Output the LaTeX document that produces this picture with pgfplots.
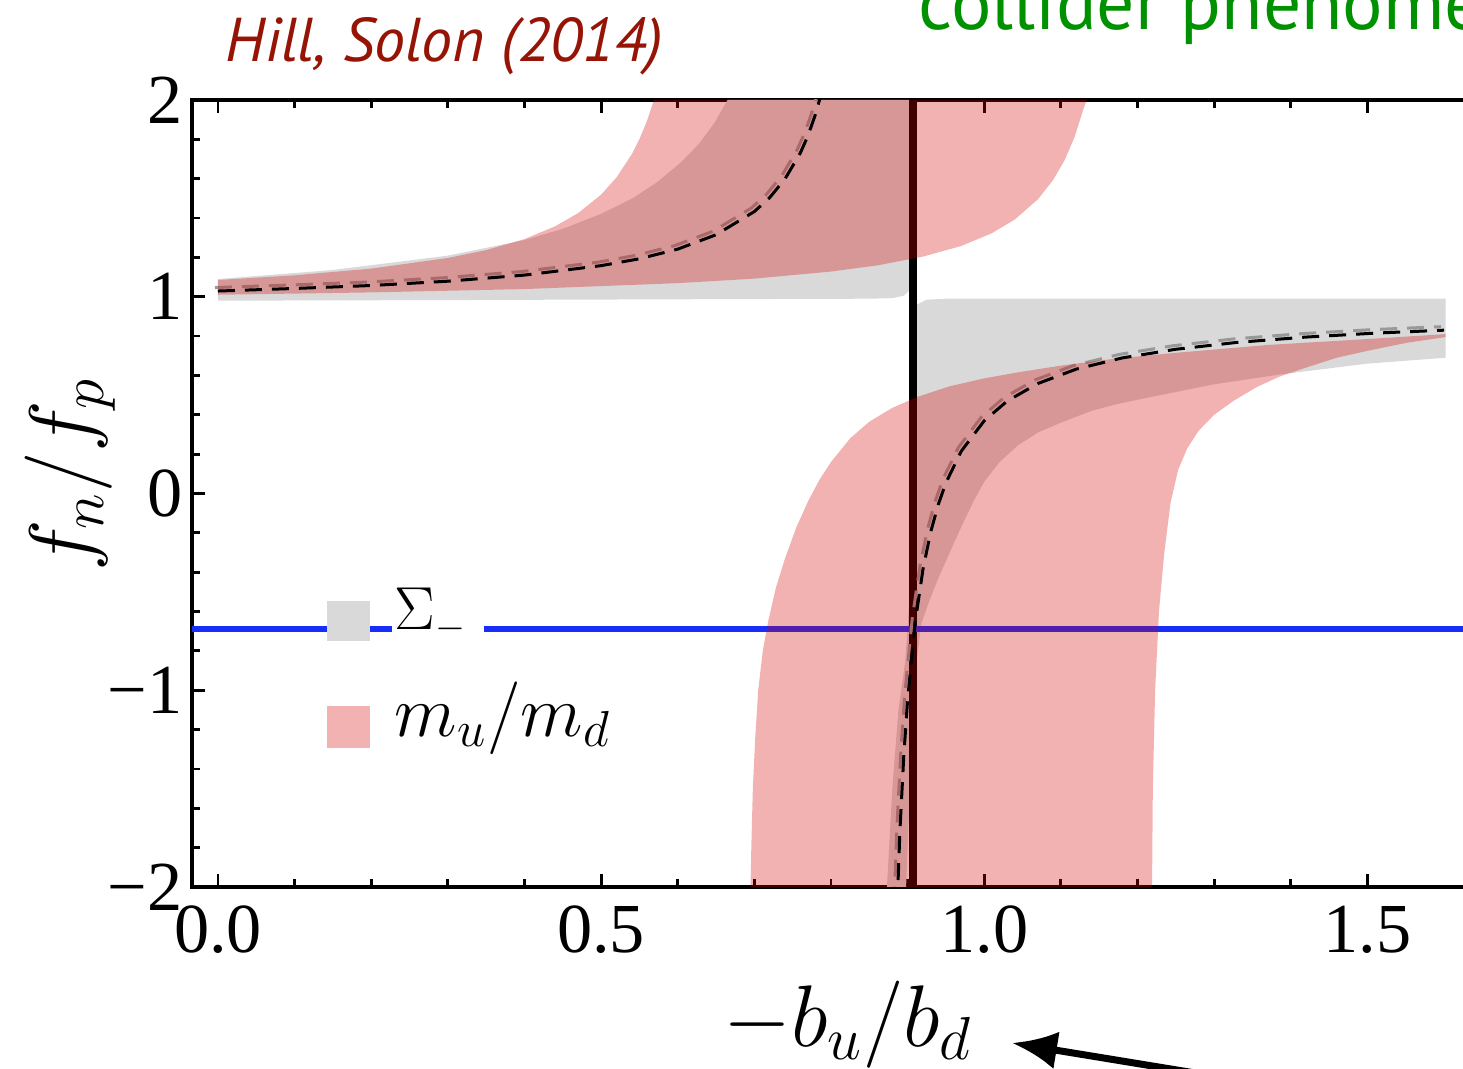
\documentclass[border=0pt]{standalone}
\usepackage{pgfplots}
\pgfplotsset{compat=1.18}
\usepackage{fontspec}
\setmainfont{Liberation Serif}
\newfontfamily\gill{PT Sans}
\usetikzlibrary{arrows.meta}
\definecolor{grayband}{RGB}{217,217,217}
\definecolor{pinkc}{RGB}{212,0,0}
\definecolor{pinklegend}{RGB}{242,178,178}
\definecolor{blueline}{RGB}{25,45,250}
\definecolor{titlered}{RGB}{150,20,5}
\definecolor{grn}{RGB}{0,145,0}

\begin{document}
\begin{tikzpicture}
\begin{axis}[
  name=ax, at={(0,0)}, anchor=south west,
  scale only axis, width=129.8mm, height=78.7mm,
  xmin=-0.0339, xmax=1.66, ymin=-2, ymax=2,
  xtick={0,0.5,1,1.5}, xticklabels={0.0,0.5,1.0,1.5},
  ytick={-2,-1,0,1,2}, yticklabels={−2,−1,0,1,2},
  minor x tick num=4, minor y tick num=4,
  tick align=inside,
  major tick length=1.3mm, minor tick length=0.8mm,
  every tick/.style={black, line width=0.8pt},
  axis line style={line width=1.1pt},
  ticklabel style={font=\fontsize{20}{24}\selectfont},
  xticklabel style={inner sep=0pt, yshift=-1.8mm},
  yticklabel style={inner sep=0pt, xshift=-0.9mm},
  legend style={at={(rel axis cs:0.104,0.380)}, anchor=north west, draw=none, fill=none,
    inner sep=0pt, outer sep=0pt, row sep=4mm, column sep=2.5mm,
    nodes={inner sep=0pt, anchor=base west}},
  legend cell align=left,
]
% Sigma_- band (gray), upper branch
\addplot[forget plot, draw=none, fill=grayband] coordinates {
 (0,0.98) (0.3,0.983) (0.6,0.987) (0.85,0.99) (0.88,0.993) (0.895,1.005) (0.902,1.03) (0.905,1.08)
 (0.905,2) (0.665,2) (0.648,1.884) (0.627,1.774) (0.605,1.686) (0.573,1.582) (0.542,1.502) (0.5,1.421)
 (0.45,1.345) (0.4,1.288) (0.3,1.209) (0.15,1.136) (0,1.09)} -- cycle;
% Sigma_- band (gray), lower branch
\addplot[forget plot, draw=none, fill=grayband] coordinates {
 (0.873,-2) (0.880,-1.5) (0.888,-1.1) (0.897,-0.85) (0.903,-0.5) (0.906,0) (0.907,0.9) (0.912,0.96)
 (0.925,0.985) (0.95,0.99) (1.602,0.99) (1.602,0.69) (1.5,0.66) (1.386,0.605) (1.3,0.555)
 (1.217,0.49) (1.174,0.455) (1.14,0.42) (1.1,0.36) (1.07,0.31) (1.044,0.245) (1.02,0.16)
 (1.0,0.06) (0.986,-0.04) (0.97,-0.17) (0.955,-0.3) (0.939,-0.44) (0.928,-0.55) (0.918,-0.66)
 (0.91,-0.9) (0.904,-1.4) (0.898,-2)} -- cycle;
% vertical line
\addplot[forget plot, black, line width=0.8mm] coordinates {(0.907,-2.1) (0.907,2.1)};
% horizontal blue line (gap behind legend text)
\addplot[forget plot, blueline, line width=0.6mm] coordinates {(-0.05,-0.69) (0.227,-0.69)};
\addplot[forget plot, blueline, line width=0.6mm] coordinates {(0.347,-0.69) (1.7,-0.69)};
% shadow dashed curve
\addplot[forget plot, black!40, line width=0.3mm, dash pattern=on 1.7mm off 1mm, xshift=-0.3mm, yshift=0.35mm] coordinates {
 (0,1.029) (0.1,1.042) (0.2,1.057) (0.3,1.079) (0.4,1.110) (0.5,1.158) (0.55,1.193) (0.6,1.242)
 (0.65,1.315) (0.7,1.433) (0.72,1.504) (0.74,1.599) (0.76,1.731) (0.77,1.819) (0.78,1.930) (0.79,2.071)};
\addplot[forget plot, black!40, line width=0.3mm, dash pattern=on 1.7mm off 1mm, xshift=-0.3mm, yshift=0.35mm] coordinates {
 (0.885,-2.239) (0.89,-1.710) (0.895,-1.332) (0.9,-1.048) (0.91,-0.651) (0.92,-0.386) (0.93,-0.197)
 (0.94,-0.056) (0.95,0.055) (0.97,0.215) (1.0,0.370) (1.03,0.470) (1.07,0.559) (1.12,0.632)
 (1.18,0.689) (1.25,0.733) (1.33,0.768) (1.42,0.795) (1.51,0.815) (1.60,0.830)};
% m_u/m_d band (pink), upper branch
\addplot[forget plot, draw=none, fill=pinkc, fill opacity=0.3] coordinates {
 (0,1.01) (0.2,1.022) (0.4,1.039) (0.6,1.069) (0.7,1.092) (0.8,1.128) (0.86,1.159) (0.92,1.204)
 (0.97,1.258) (1.01,1.323) (1.04,1.393) (1.07,1.495) (1.09,1.594) (1.105,1.695) (1.118,1.813)
 (1.13,1.961) (1.134,2.0) (0.569,2.0) (0.56,1.895) (0.55,1.801) (0.54,1.724) (0.52,1.606)
 (0.5,1.519) (0.47,1.425) (0.44,1.358) (0.4,1.293) (0.35,1.237) (0.3,1.197) (0.2,1.143)
 (0.1,1.109) (0,1.085)} -- cycle;
% m_u/m_d band (pink), lower branch
\addplot[forget plot, draw=none, fill=pinkc, fill opacity=0.3] coordinates {
 (0.695,-2) (0.696,-1.8) (0.698,-1.5) (0.701,-1.25) (0.705,-1.0) (0.711,-0.8) (0.718,-0.65)
 (0.728,-0.48) (0.74,-0.33) (0.755,-0.17) (0.77,-0.04) (0.785,0.07) (0.80,0.16) (0.825,0.28)
 (0.85,0.365) (0.88,0.435) (0.912,0.49) (0.955,0.545) (1.0,0.585) (1.043,0.615) (1.1,0.65)
 (1.17,0.685) (1.25,0.715) (1.37,0.755) (1.5,0.785) (1.602,0.81)
 (1.602,0.795) (1.55,0.765) (1.5,0.725) (1.46,0.69) (1.42,0.64) (1.386,0.595) (1.355,0.54)
 (1.325,0.47) (1.3,0.40) (1.28,0.32) (1.265,0.23) (1.253,0.12) (1.243,-0.05) (1.235,-0.3)
 (1.228,-0.6) (1.223,-1.0) (1.220,-1.5) (1.219,-2)} -- cycle;
% central dashed curve
\addplot[forget plot, black, line width=0.3mm, dash pattern=on 1.7mm off 1mm] coordinates {
 (0,1.029) (0.1,1.042) (0.2,1.057) (0.3,1.079) (0.4,1.110) (0.5,1.158) (0.55,1.193) (0.6,1.242)
 (0.65,1.315) (0.7,1.433) (0.72,1.504) (0.74,1.599) (0.76,1.731) (0.77,1.819) (0.78,1.930) (0.79,2.071)};
\addplot[forget plot, black, line width=0.3mm, dash pattern=on 1.7mm off 1mm] coordinates {
 (0.885,-2.239) (0.89,-1.710) (0.895,-1.332) (0.9,-1.048) (0.91,-0.651) (0.92,-0.386) (0.93,-0.197)
 (0.94,-0.056) (0.95,0.055) (0.97,0.215) (1.0,0.370) (1.03,0.470) (1.07,0.559) (1.12,0.632)
 (1.18,0.689) (1.25,0.733) (1.33,0.768) (1.42,0.795) (1.51,0.815) (1.60,0.830)};
% legend
\addlegendimage{legend image code/.code={\path[fill=grayband, draw=none] (0mm,-1.2mm) rectangle (4.3mm,2.8mm);}}
\addlegendentry{\fontsize{16}{18}\selectfont$\Sigma_-$}
\addlegendimage{legend image code/.code={\path[fill=pinklegend, draw=none] (0mm,-1.2mm) rectangle (4.3mm,3mm);}}
\addlegendentry{\fontsize{20}{24}\selectfont$m_u/m_d$}
\end{axis}
\node[anchor=base west, inner sep=0pt, font=\gill\itshape\fontsize{17.6}{20}\selectfont, text=titlered] at (3.3mm,82.5mm) {Hill, Solon (2014)};
\node[anchor=base west, inner sep=0pt, font=\gill\fontsize{21.5}{24}\selectfont, text=grn] at (72.6mm,85.7mm) {collider phenomenology};
\node[rotate=90, font=\fontsize{24}{28}\selectfont] at (-12.2mm,41.2mm) {$f_n/f_p$};
\node[font=\fontsize{24}{28}\selectfont] at (65.6mm,-13.8mm) {$-b_u/b_d$};
\draw[line width=0.7mm, -{Latex[length=4.5mm,width=3.8mm]}] (105.8mm,-19.5mm) -- (82.0mm,-15.6mm);
\pgfresetboundingbox
\path (-19.2mm,-18.2mm) rectangle (127.1mm,88.7mm);
\end{tikzpicture}
\end{document}
